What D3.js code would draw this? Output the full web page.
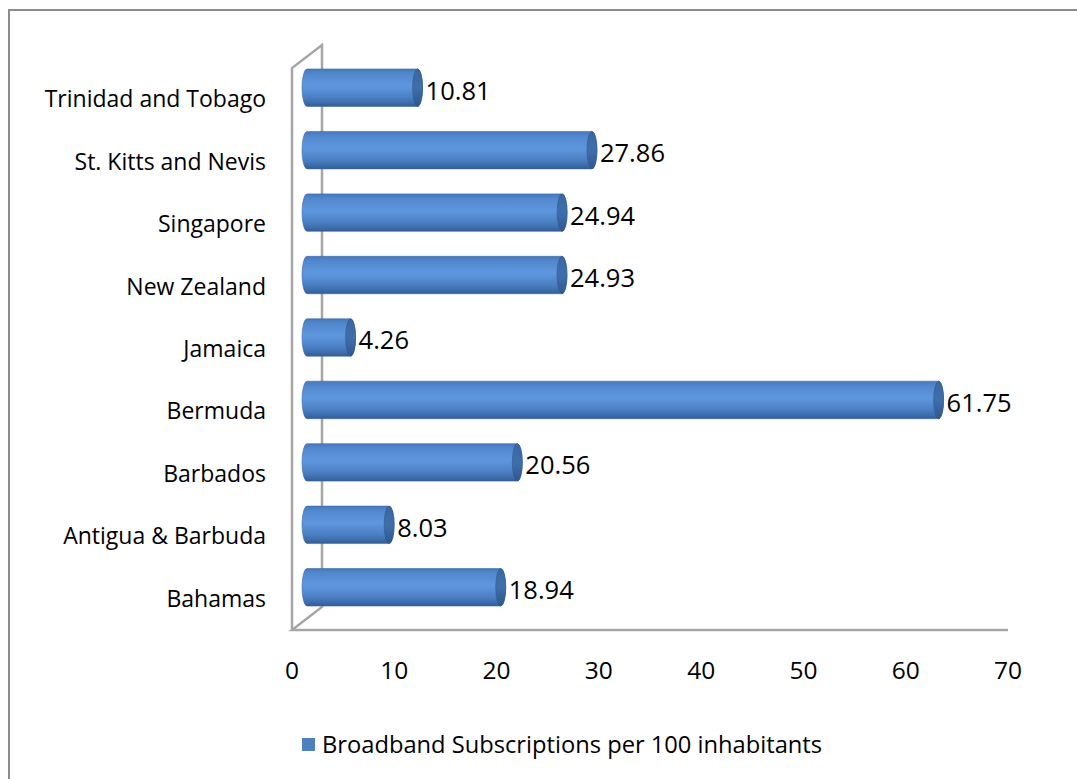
<!DOCTYPE html>
<html>
<head>
<meta charset="utf-8">
<script src="https://cdn.jsdelivr.net/npm/d3@7/dist/d3.min.js"></script>
<style>
  html, body { margin: 0; padding: 0; background: #fff; }
  svg { display: block; }
  text { font-family: "Open Sans", "Liberation Sans", sans-serif; fill: #000; }
</style>
</head>
<body>
<svg id="chart" width="1077" height="779"></svg>
<script>
const categories = ["Bahamas", "Antigua & Barbuda", "Barbados", "Bermuda", "Jamaica",
  "New Zealand", "Singapore", "St. Kitts and Nevis", "Trinidad and Tobago"];
const values = [18.94, 8.03, 20.56, 61.75, 4.26, 24.93, 24.94, 27.86, 10.81];
const xTicks = [0, 10, 20, 30, 40, 50, 60, 70];
const seriesName = "Broadband Subscriptions per 100 inhabitants";

const svg = d3.select("#chart");
const W = 1077, H = 779;
const FS = 23;

// outer border
svg.append("rect").attr("x", 9).attr("y", 10).attr("width", W).attr("height", H)
  .attr("fill", "#fff").attr("stroke", "#8c8c8c").attr("stroke-width", 2);

const x = d3.scaleLinear().domain([0, 70]).range([292, 1008]);
const y = d3.scaleBand().domain(categories.slice().reverse()).range([68, 630]);

const depthX = 30, depthY = -23;
const frameColor = "#a6a6a6";

const defs = svg.append("defs");
const g1 = defs.append("linearGradient").attr("id", "body").attr("x1", 0).attr("y1", 0).attr("x2", 0).attr("y2", 1);
[[0, "#4678bb"], [0.12, "#5187cd"], [0.45, "#5f97de"], [0.75, "#4c80c5"], [0.92, "#3b6aa8"], [1, "#345b90"]]
  .forEach(([o, c]) => g1.append("stop").attr("offset", o).attr("stop-color", c));
const g2 = defs.append("linearGradient").attr("id", "cap").attr("x1", 0).attr("y1", 0).attr("x2", 0).attr("y2", 1);
[[0, "#3a679f"], [0.5, "#3f6fab"], [1, "#30578c"]]
  .forEach(([o, c]) => g2.append("stop").attr("offset", o).attr("stop-color", c));

// frame: back wall & floor lines
const frame = svg.append("g").attr("fill", "none").attr("stroke", frameColor).attr("stroke-width", 2.5);
const x0 = x(0), yTop = y.range()[0], yBot = y.range()[1];
frame.append("path").attr("d", d3.line()([
  [x0, yBot], [x0, yTop], [x0 + depthX, yTop + depthY], [x0 + depthX, yBot + depthY], [x0, yBot], [x(70), yBot]
]));

// bars (cylinders) at half depth
const hx = depthX / 2, hy = depthY / 2;
const barH = y.bandwidth() * 0.6;
const rx = 5;
const bars = svg.append("g");
categories.forEach((c, i) => {
  const v = values[i];
  const cy = y(c) + y.bandwidth() / 2 + hy;
  const top = cy - barH / 2, bot = cy + barH / 2;
  const bx0 = x(0) + hx, bx1 = x(v) + hx;
  const ry = barH / 2;
  const p = `M${bx0},${top} L${bx1},${top} A${rx},${ry} 0 0 1 ${bx1},${bot} L${bx0},${bot} A${rx},${ry} 0 0 1 ${bx0},${top} Z`;
  bars.append("path").attr("d", p).attr("fill", "url(#body)").attr("stroke", "#3d6aa6").attr("stroke-width", 0.6);
  bars.append("ellipse").attr("cx", bx1).attr("cy", cy).attr("rx", rx).attr("ry", ry)
    .attr("fill", "url(#cap)").attr("stroke", "#2f5b94").attr("stroke-width", 0.6);
  bars.append("text").attr("x", bx1 + rx + 3).attr("y", cy + 3).attr("dy", "0.35em")
    .attr("font-size", 25.5).text(v.toFixed(2));
});

// category labels (front plane)
svg.append("g").selectAll("text").data(categories).join("text")
  .attr("x", 266).attr("y", d => y(d) + y.bandwidth() / 2).attr("dy", "0.35em")
  .attr("text-anchor", "end").attr("font-size", FS).text(d => d);

// x tick labels
svg.append("g").selectAll("text").data(xTicks).join("text")
  .attr("x", d => x(d)).attr("y", 670).attr("dy", "0.35em")
  .attr("text-anchor", "middle").attr("font-size", 24.5).text(d => d);

// legend
svg.append("rect").attr("x", 302).attr("y", 738).attr("width", 13).attr("height", 13).attr("fill", "#4f81bd");
svg.append("text").attr("x", 322).attr("y", 745).attr("dy", "0.35em").attr("font-size", 23.7).text(seriesName);
</script>
</body>
</html>
